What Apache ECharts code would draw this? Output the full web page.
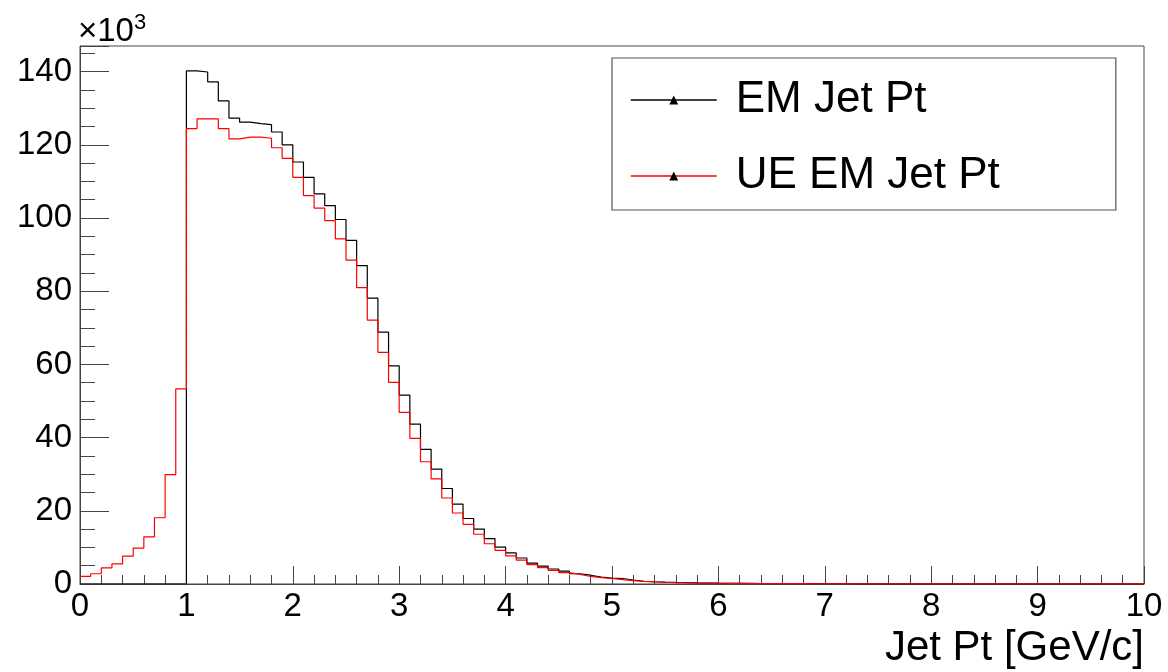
<!DOCTYPE html>
<html>
<head>
<meta charset="utf-8">
<script src="https://cdn.jsdelivr.net/npm/echarts@6/dist/echarts.min.js"></script>
<style>
html,body{margin:0;padding:0;background:#fff;}
#chart{width:1168px;height:672px;}
</style>
</head>
<body>
<div id="chart"></div>
<script>
// Histogram: 100 bins of width 0.1 from 0 to 10, values in units of 10^3
const binWidth = 0.1;
const nBins = 100;
const emJetPt = [
  0,0,0,0,0,0,0,0,0,0,
  140.2,139.9,137.2,132.0,127.3,126.2,125.8,125.5,123.5,120.0,
  115.3,111.1,106.6,103.4,99.6,93.9,87.0,78.1,68.8,59.6,
  51.6,43.7,36.8,31.4,26.1,21.8,17.9,15.0,12.4,10.1,
  8.5,7.1,5.7,4.9,4.1,3.5,2.8,2.4,1.9,1.6,
  1.5,1.1,0.75,0.62,0.5,0.42,0.36,0.3,0.26,0.22,
  0.19,0.17,0.15,0.13,0.12,0.11,0.1,0.09,0.08,0.075,
  0.07,0.065,0.06,0.055,0.05,0.05,0.045,0.04,0.04,0.035,
  0.035,0.03,0.03,0.03,0.025,0.025,0.025,0.02,0.02,0.02,
  0.02,0.02,0.015,0.015,0.015,0.015,0.015,0.01,0.01,0.01
];
const ueEmJetPt = [
  2.1,2.8,4.4,5.5,7.6,9.8,12.9,18.1,29.9,53.3,
  124.4,127.1,127.1,124.4,121.6,122.1,122.1,121.8,119.2,116.3,
  111.1,106.1,102.7,99.3,94.3,88.5,81.0,72.1,63.3,55.1,
  46.9,39.8,33.4,28.7,23.5,19.4,16.3,13.6,11.0,9.2,
  7.7,6.5,5.3,4.5,3.7,3.1,2.6,2.1,1.75,1.5,
  1.2,0.9,0.74,0.6,0.48,0.4,0.34,0.28,0.24,0.2,
  0.17,0.15,0.13,0.12,0.11,0.1,0.09,0.08,0.075,0.07,
  0.065,0.06,0.055,0.05,0.045,0.045,0.04,0.04,0.035,0.035,
  0.03,0.03,0.03,0.025,0.025,0.025,0.02,0.02,0.02,0.02,
  0.015,0.015,0.015,0.015,0.01,0.01,0.01,0.01,0.01,0.01
];
const seriesNames = ['EM Jet Pt', 'UE EM Jet Pt'];
const xTickLabels = ['0','1','2','3','4','5','6','7','8','9','10'];
const yTickLabels = ['0','20','40','60','80','100','120','140'];
const xAxisTitle = 'Jet Pt [GeV/c]';

function stepData(vals) {
  const d = vals.map((v, i) => [+(i * binWidth).toFixed(2), v]);
  d.push([+(nBins * binWidth).toFixed(2), vals[vals.length - 1]]);
  return d;
}

const chart = echarts.init(document.getElementById('chart'), null, {renderer: 'canvas'});
const gridPos = {left: 80, right: 24, top: 46, bottom: 88};
const axisCol = '#444';
const font = 'Liberation Sans, Arial, Helvetica, sans-serif';

chart.setOption({
  animation: false,
  backgroundColor: '#fff',
  grid: [
    Object.assign({show: true, borderColor: axisCol, borderWidth: 1, backgroundColor: 'transparent'}, gridPos),
    Object.assign({show: false}, gridPos)
  ],
  legend: {
    orient: 'vertical',
    left: 612,
    top: 58,
    padding: [17, 116, 9, 18],
    itemGap: 26,
    itemWidth: 86,
    itemHeight: 11,
    borderColor: '#555',
    borderWidth: 1.2,
    backgroundColor: '#fff',
    selectedMode: false,
    textStyle: {fontFamily: font, fontSize: 44, color: '#000', lineHeight: 50, padding: [0, 0, 0, 14]},
    data: [
      {name: seriesNames[0], itemStyle: {color: '#000'}, lineStyle: {color: '#000', width: 1.5}},
      {name: seriesNames[1], itemStyle: {color: '#000'}, lineStyle: {color: '#ff0000', width: 1.5}}
    ]
  },
  xAxis: [
    {
      type: 'value', gridIndex: 0, min: 0, max: 10, interval: 1,
      axisLine: {show: true, onZero: false, lineStyle: {color: axisCol, width: 1}},
      axisTick: {show: true, inside: true, length: 18, lineStyle: {color: axisCol, width: 1}},
      axisLabel: {fontFamily: font, fontSize: 33, color: '#000', margin: 6,
        formatter: v => xTickLabels[Math.round(v)] ?? ''},
      splitLine: {show: false},
      name: xAxisTitle,
      nameLocation: 'end',
      nameGap: 0,
      nameTextStyle: {fontFamily: font, fontSize: 42, color: '#000', align: 'right', verticalAlign: 'top', padding: [43, 0, 0, 0]}
    },
    {
      type: 'value', gridIndex: 1, min: 0, max: 10, interval: 0.2,
      axisLine: {show: false},
      axisTick: {show: true, inside: true, length: 9, lineStyle: {color: axisCol, width: 1}},
      axisLabel: {show: false},
      splitLine: {show: false}
    }
  ],
  yAxis: [
    {
      type: 'value', gridIndex: 0, min: 0, max: 147, interval: 20,
      axisLine: {show: true, onZero: false, lineStyle: {color: axisCol, width: 1}},
      axisTick: {show: true, inside: true, length: 29, lineStyle: {color: axisCol, width: 1}},
      axisLabel: {fontFamily: font, fontSize: 33, color: '#000', margin: 8,
        formatter: v => (Math.abs(v % 20) < 1e-6 ? yTickLabels[Math.round(v / 20)] : '')},
      splitLine: {show: false},
      name: '{a|×10}{b|3}',
      nameLocation: 'end',
      nameGap: -2,
      nameTextStyle: {
        align: 'left', verticalAlign: 'bottom', padding: [0, 0, 0, -2],
        rich: {
          a: {fontFamily: font, fontSize: 33, color: '#000', lineHeight: 36, verticalAlign: 'bottom'},
          b: {fontFamily: font, fontSize: 22, color: '#000', lineHeight: 36, verticalAlign: 'top', padding: [0, 0, 14, 0]}
        }
      }
    },
    {
      type: 'value', gridIndex: 1, min: 0, max: 147, interval: 5,
      axisLine: {show: false},
      axisTick: {show: true, inside: true, length: 15, lineStyle: {color: axisCol, width: 1}},
      axisLabel: {show: false},
      splitLine: {show: false}
    }
  ],
  series: [
    {
      name: seriesNames[0], type: 'line', xAxisIndex: 0, yAxisIndex: 0,
      step: 'end', symbol: 'triangle', showSymbol: false, silent: true,
      lineStyle: {color: '#000', width: 1.2},
      itemStyle: {color: '#000'},
      emphasis: {disabled: true},
      data: stepData(emJetPt)
    },
    {
      name: seriesNames[1], type: 'line', xAxisIndex: 0, yAxisIndex: 0,
      step: 'end', symbol: 'triangle', showSymbol: false, silent: true,
      lineStyle: {color: '#ff0000', width: 1.2},
      itemStyle: {color: '#ff0000'},
      emphasis: {disabled: true},
      data: stepData(ueEmJetPt)
    }
  ]
});
</script>
</body>
</html>
